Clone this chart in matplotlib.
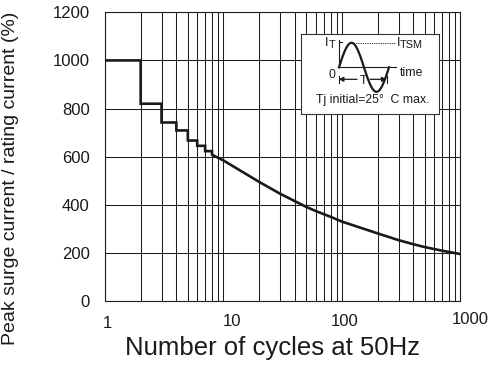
import numpy as np
import matplotlib
matplotlib.use("Agg")
import matplotlib.pyplot as plt
from matplotlib.ticker import FixedLocator, NullFormatter
from matplotlib.transforms import ScaledTranslation, blended_transform_factory

plt.rcParams['font.family'] = ['Liberation Sans', 'DejaVu Sans']

# ---- data ----
cycles_steps = [1, 2, 3, 4, 5, 6, 7, 8]
surge_steps = [1000, 820, 742, 709, 667, 645, 623]          # level on [n, n+1)
cycles_curve = [8, 10, 20, 30, 40, 50, 60, 80, 100, 200, 300, 400, 500, 700, 1000]
surge_curve = [608, 584, 495, 446, 415, 391, 374, 350, 330, 281, 253, 236, 224, 209, 195]

x_ticks = [1, 10, 100, 1000]
x_tick_labels = ['1', '10', '100', '1000']
y_ticks = [0, 200, 400, 600, 800, 1000, 1200]

# ---- build step + curve path ----
xs, ys = [], []
for i, lvl in enumerate(surge_steps):
    xs += [cycles_steps[i], cycles_steps[i + 1]]
    ys += [lvl, lvl]
xs += cycles_curve
ys += surge_curve

fig = plt.figure(figsize=(4.96, 3.69), dpi=100)
ax = fig.add_axes([105/496, 1 - 301/369, (460.5 - 105)/496, (301 - 12.3)/369])

grid_c = '#1e1e1e'
ax.set_xscale('log')
ax.set_xlim(1, 1000)
ax.set_ylim(0, 1200)
ax.set_yticks(y_ticks)
ax.set_yticklabels([str(v) for v in y_ticks])
ax.xaxis.set_major_locator(FixedLocator(x_ticks))
ax.xaxis.set_major_formatter(NullFormatter())
minor = [m * 10**d for d in range(0, 3) for m in range(2, 10)]
ax.xaxis.set_minor_locator(FixedLocator(minor))
ax.xaxis.set_minor_formatter(NullFormatter())
ax.grid(True, which='both', axis='x', color=grid_c, lw=0.75)
ax.grid(True, which='major', axis='y', color=grid_c, lw=0.75)
ax.tick_params(axis='both', which='both', length=0, labelsize=12, colors='#1a1a1a')
ax.tick_params(axis='y', pad=11)
for s in ax.spines.values():
    s.set_color(grid_c)
    s.set_linewidth(0.8)

# x tick labels (slightly offset as in the original datasheet)
tr = blended_transform_factory(ax.transData, ax.transAxes)
dx_px = [2, 9, 3, 10]
dy_px = [-23, -20.5, -20.5, -18.5]
for xv, lab, dx, dy in zip(x_ticks, x_tick_labels, dx_px, dy_px):
    ax.text(xv, 0, lab, ha='center', va='center', fontsize=12, color='#1a1a1a',
            transform=tr + ScaledTranslation(dx/100, dy/100, fig.dpi_scale_trans),
            clip_on=False)

ax.plot(xs, ys, color='#1a1a1a', lw=1.9, solid_joinstyle='miter', zorder=3)

fig.text(272.5/496, 1 - 355/369, 'Number of cycles at 50Hz', ha='center', va='baseline',
         fontsize=18.5, color='#1a1a1a')
fig.text(10.5/496, 1 - 178.5/369, 'Peak surge current / rating current (%)', rotation=90,
         ha='center', va='center', fontsize=14, color='#1a1a1a')

# ---- inset schematic ----
W, H = 138.3, 79.7
ins = fig.add_axes([301/496, 1 - 114/369, W/496, H/369])
ins.set_xlim(0, W)
ins.set_ylim(0, H)
ins.set_xticks([])
ins.set_yticks([])
ins.set_facecolor('white')
for s in ins.spines.values():
    s.set_color('#333333')
    s.set_linewidth(0.8)
ins.set_zorder(5)

k = '#1a1a1a'
y0 = 46.7
# axes of the schematic
ins.plot([38, 38], [y0, 74], color=k, lw=0.8)
ins.plot([38, 41], [71.7, 71.7], color=k, lw=0.8)
ins.plot([38, 95], [y0, y0], color=k, lw=0.8)
# schematic sine wave (one period)
t = np.linspace(0, 1, 100)
ins.plot(38 + 50 * t, y0 + 24.5 * np.sin(2 * np.pi * t), color=k, lw=1.6)
# dashed peak level
ins.plot([50, 94], [71.2, 71.2], color=k, lw=0.6, ls=(0, (1.5, 1.2)))
# period arrow
ya = 34.7
ins.annotate('', xy=(37.6, ya), xytext=(56, ya),
             arrowprops=dict(arrowstyle='-|>', color=k, lw=0.9, mutation_scale=7,
                             shrinkA=0, shrinkB=0))
ins.annotate('', xy=(85.7, ya), xytext=(69, ya),
             arrowprops=dict(arrowstyle='-|>', color=k, lw=0.9, mutation_scale=7,
                             shrinkA=0, shrinkB=0))
ins.plot([38, 38], [31, 38.5], color=k, lw=0.8)
ins.plot([86, 86], [31, 38.5], color=k, lw=0.8)

fs = 8.8
ins.text(62, 32.5, 'T', ha='center', va='center', fontsize=fs, color=k)
ins.text(24, 71, 'I', ha='left', va='center', fontsize=fs + 0.5, color=k)
ins.text(27.5, 68.6, 'T', ha='left', va='center', fontsize=fs - 1, color=k)
ins.text(95.5, 70.8, 'I', ha='left', va='center', fontsize=fs + 0.5, color=k)
ins.text(98.8, 68.6, 'TSM', ha='left', va='center', fontsize=fs - 1, color=k)
ins.text(31, 39, '0', ha='center', va='center', fontsize=fs, color=k)
ins.text(99, 40.7, 'time', ha='left', va='center', fontsize=fs, color=k)
ins.text(72, 14, 'Tj initial=25\u00b0  C max.', ha='center', va='center',
         fontsize=fs, color=k)

fig.savefig('out.png', dpi=100)
